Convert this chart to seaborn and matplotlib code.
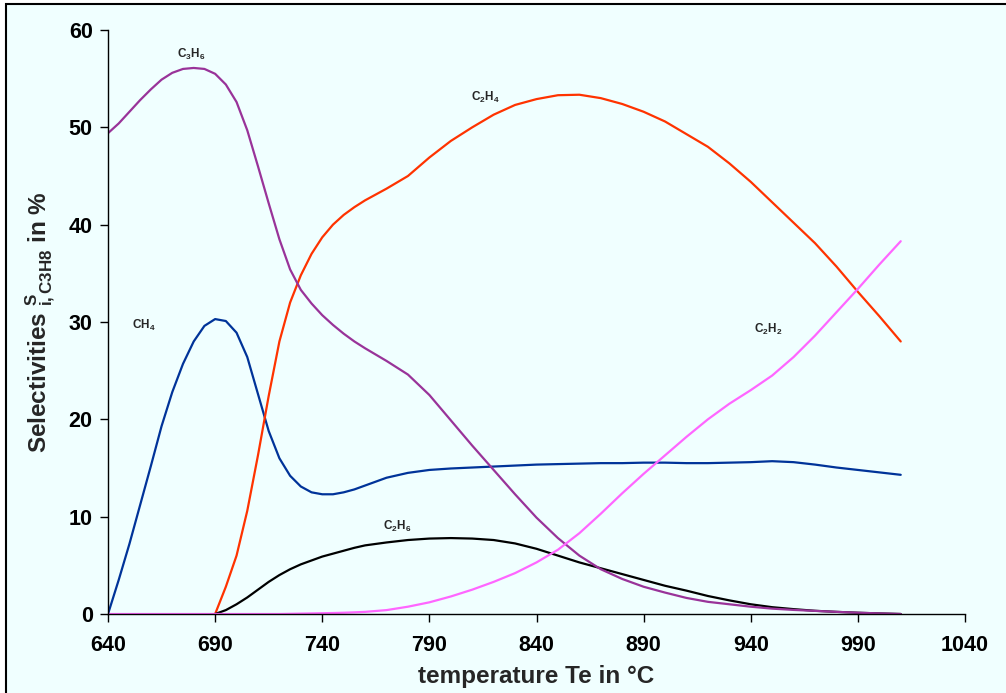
import seaborn as sns
import matplotlib.pyplot as plt
from matplotlib.patches import Rectangle

# temperature in degC (5 K steps up to 760, then 10 K steps)
temperature = [640, 645, 650, 655, 660, 665, 670, 675, 680, 685, 690, 695, 700,
               705, 710, 715, 720, 725, 730, 735, 740, 745, 750, 755, 760,
               770, 780, 790, 800, 810, 820, 830, 840, 850, 860, 870, 880, 890,
               900, 910, 920, 930, 940, 950, 960, 970, 980, 990, 1000, 1010]

ch4 = [0, 3.5, 7.2, 11.2, 15.2, 19.3, 22.8, 25.7, 28.0, 29.6, 30.3, 30.1, 28.9,
       26.4, 22.6, 18.8, 16.0, 14.2, 13.1, 12.5, 12.3, 12.3, 12.5, 12.8, 13.2,
       14.0, 14.5, 14.8, 14.95, 15.05, 15.15, 15.25, 15.35, 15.4, 15.45, 15.5, 15.5, 15.55,
       15.55, 15.5, 15.5, 15.55, 15.6, 15.7, 15.6, 15.35, 15.05, 14.8, 14.55, 14.3]

c3h6 = [49.4, 50.4, 51.6, 52.8, 53.9, 54.9, 55.6, 56.0, 56.1, 56.0, 55.5, 54.4, 52.6,
        49.7, 46.0, 42.2, 38.5, 35.4, 33.3, 31.9, 30.7, 29.7, 28.8, 28.0, 27.3,
        26.0, 24.6, 22.5, 19.9, 17.3, 14.8, 12.3, 9.9, 7.8, 6.0, 4.6, 3.6, 2.8,
        2.2, 1.65, 1.25, 1.0, 0.75, 0.55, 0.42, 0.32, 0.22, 0.13, 0.06, 0.0]

c2h4 = [None, None, None, None, None, None, None, None, None, None, 0, 2.8, 6.0,
        10.6, 16.3, 22.4, 28.0, 32.0, 34.8, 37.0, 38.7, 40.0, 41.0, 41.8, 42.5,
        43.7, 45.0, 46.9, 48.6, 50.0, 51.3, 52.3, 52.9, 53.3, 53.35, 53.0, 52.4, 51.6,
        50.6, 49.3, 48.0, 46.3, 44.4, 42.3, 40.2, 38.1, 35.7, 33.1, 30.6, 28.0]

c2h6 = [None, None, None, None, None, None, None, None, None, None, 0, 0.4, 1.0,
        1.7, 2.5, 3.3, 4.0, 4.6, 5.1, 5.5, 5.9, 6.2, 6.5, 6.8, 7.05,
        7.35, 7.6, 7.75, 7.8, 7.75, 7.6, 7.25, 6.7, 6.0, 5.3, 4.7, 4.1, 3.5,
        2.9, 2.4, 1.85, 1.4, 1.0, 0.7, 0.5, 0.33, 0.22, 0.13, 0.06, 0.0]

c2h2 = [0, 0, 0, 0, 0, 0, 0, 0, 0, 0, 0, 0, 0,
        0, 0, 0, 0, 0.02, 0.04, 0.06, 0.08, 0.1, 0.13, 0.17, 0.22,
        0.4, 0.75, 1.2, 1.8, 2.5, 3.3, 4.2, 5.3, 6.6, 8.3, 10.3, 12.4, 14.4,
        16.3, 18.2, 20.0, 21.6, 23.0, 24.5, 26.4, 28.6, 31.0, 33.4, 35.9, 38.3]

series = [
    (ch4, '#003399', 'CH$_4$', 656.8, 29.6),
    (c2h4, '#FF3300', 'C$_2$H$_4$', 816, 53.1),
    (c2h6, 'black', 'C$_2$H$_6$', 775, 9.0),
    (c3h6, '#993399', 'C$_3$H$_6$', 679, 57.5),
    (c2h2, '#FF66FF', 'C$_2$H$_2$', 948, 29.2),
]

sns.set_style('ticks')
plt.rcParams['font.family'] = ['Liberation Sans', 'DejaVu Sans']
plt.rcParams['font.weight'] = 'bold'
plt.rcParams['mathtext.fontset'] = 'custom'
plt.rcParams['mathtext.rm'] = 'Liberation Sans:bold'
plt.rcParams['mathtext.it'] = 'Liberation Sans:bold'
plt.rcParams['mathtext.bf'] = 'Liberation Sans:bold'
plt.rcParams['mathtext.sf'] = 'Liberation Sans:bold'

bg = '#F0FFFF'
fig = plt.figure(figsize=(10.06, 6.93), dpi=100, facecolor='white')
fig.patches.append(Rectangle((6 / 1006, -0.05), 1.1, 1.05 - 4 / 693,
                             transform=fig.transFigure, facecolor=bg,
                             edgecolor='black', lw=1.5, zorder=-10))
ax = fig.add_axes([108 / 1006, 1 - 614 / 693, 857 / 1006, 584 / 693])
ax.set_facecolor(bg)

for vals, col, name, lx, ly in series:
    sns.lineplot(x=temperature, y=vals, color=col, lw=1.6, ax=ax)
    ax.text(lx, ly, name, fontsize=8.5, ha='center', va='center')

ax.set_xlim(640, 1040)
ax.set_ylim(0, 60)
ax.set_xticks([640, 690, 740, 790, 840, 890, 940, 990, 1040])
ax.set_yticks([0, 10, 20, 30, 40, 50, 60])
ax.tick_params(direction='out', length=6, width=1, colors='black', labelsize=15.5)
ax.tick_params(axis='x', pad=9)
ax.tick_params(axis='y', pad=5)
sns.despine(ax=ax)
for s in ['left', 'bottom']:
    ax.spines[s].set_color('black')
    ax.spines[s].set_linewidth(1)

ax.set_xlabel('temperature Te in °C', fontsize=17.5, fontweight='bold')
ax.set_ylabel('Selectivities $^{S}_{i,C3H8}$ in %', fontsize=17.5, fontweight='bold')
ax.xaxis.set_label_coords(0.5, -0.088)
ax.yaxis.set_label_coords(-0.06, 0.5)

fig.savefig('out.png', dpi=100, facecolor=fig.get_facecolor())
